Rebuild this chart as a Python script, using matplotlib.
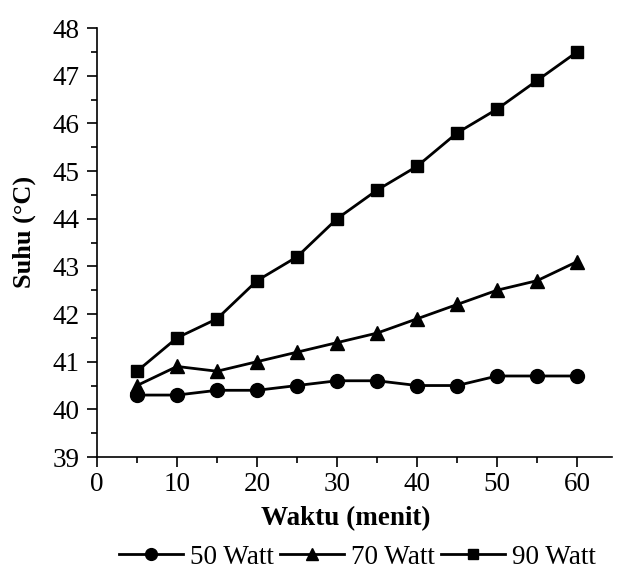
import matplotlib
matplotlib.use("Agg")
import matplotlib.pyplot as plt
from matplotlib.ticker import MultipleLocator

plt.rcParams['font.family'] = ['Liberation Serif', 'DejaVu Serif']

waktu = [5, 10, 15, 20, 25, 30, 35, 40, 45, 50, 55, 60]
w50 = [40.3, 40.3, 40.4, 40.4, 40.5, 40.6, 40.6, 40.5, 40.5, 40.7, 40.7, 40.7]
w70 = [40.5, 40.9, 40.8, 41.0, 41.2, 41.4, 41.6, 41.9, 42.2, 42.5, 42.7, 43.1]
w90 = [40.8, 41.5, 41.9, 42.7, 43.2, 44.0, 44.6, 45.1, 45.8, 46.3, 46.9, 47.5]
labels = ['50 Watt', '70 Watt', '90 Watt']

fig = plt.figure(figsize=(6.24, 5.72), dpi=100)
ax = fig.add_axes([0.1554, 0.201, 0.826, 0.750])

ax.plot(waktu, w50, '-o', color='black', lw=2.0, ms=10, label=labels[0])
ax.plot(waktu, w70, '-^', color='black', lw=2.0, ms=10.5, label=labels[1])
ax.plot(waktu, w90, '-s', color='black', lw=2.0, ms=9, label=labels[2])

ax.set_xlim(0, 64.4)
ax.set_ylim(39, 48)
ax.xaxis.set_major_locator(MultipleLocator(10))
ax.xaxis.set_minor_locator(MultipleLocator(5))
ax.yaxis.set_major_locator(MultipleLocator(1))
ax.yaxis.set_minor_locator(MultipleLocator(0.5))
for s in ['top', 'right']:
    ax.spines[s].set_visible(False)
for s in ['left', 'bottom']:
    ax.spines[s].set_linewidth(1.2)
ax.tick_params(which='major', direction='out', length=7, width=1.2, labelsize=19.5)
ax.tick_params(axis='x', which='major', pad=3.5)
ax.tick_params(axis='y', which='major', pad=5.5)
ax.tick_params(which='minor', direction='out', length=4.5, width=1.2)

ax.set_xlabel('Waktu (menit)', fontsize=19.5, fontweight='bold')
ax.set_ylabel('Suhu (°C)', fontsize=19, fontweight='bold')
ax.xaxis.set_label_coords(0.482, -0.115)
ax.yaxis.set_label_coords(-0.118, 0.525)

leg = fig.legend(loc='center', bbox_to_anchor=(0.573, 0.026), ncol=3, frameon=False,
                 fontsize=19.5, handlelength=2.35, handletextpad=0.25, columnspacing=0.25,
                 markerscale=0.85, borderaxespad=0, borderpad=0)

fig.savefig('out.png', dpi=100)
